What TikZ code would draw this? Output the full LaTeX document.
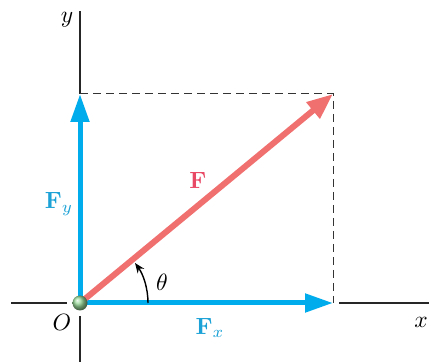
\documentclass[tikz,border=0pt]{standalone}
\usetikzlibrary{arrows.meta}
\definecolor{vecblue}{RGB}{0,172,236}
\definecolor{labblue}{RGB}{28,162,214}
\definecolor{vecred}{RGB}{240,112,112}
\definecolor{labred}{RGB}{232,72,100}
\definecolor{ballgreen}{RGB}{150,215,150}
\tikzset{
  lab/.style={scale=2.35, inner sep=0pt},
  axis/.style={line width=1.1pt, black!85},
  guide/.style={line width=1pt, black!80, dash pattern=on 8pt off 5pt},
  comp/.style={line width=5pt, vecblue, -{Triangle[length=28pt,width=18pt]}},
  resv/.style={line width=6pt, vecred, -{Triangle[length=26pt,width=20pt]}},
}
\begin{document}
\begin{tikzpicture}[x=1pt,y=1pt]
\useasboundingbox (0,0) rectangle (429,362);
\clip (0,0) rectangle (429,362);
\coordinate (O) at (80,59);
\coordinate (P) at (333,268);
\coordinate (X) at (333,59);
\coordinate (Y) at (80,268);
\coordinate (xl1) at (11,59);
\coordinate (xl2) at (67,59);
\coordinate (xr1) at (339,59);
\coordinate (xr2) at (429,59);
\coordinate (yt) at (80,351);
\coordinate (yb1) at (80,46);
\coordinate (yb2) at (80,0);
% axes
\draw[axis] (xl1) -- (xl2);
\draw[axis] (xr1) -- (xr2);
\draw[axis] (Y) -- (yt);
\draw[axis] (yb1) -- (yb2);
% dashed guides
\draw[guide] (Y) -- (P) -- (X);
% vectors
\draw[comp] (O) -- (X);
\draw[comp] (O) -- (Y);
\draw[resv] (O) -- (P);
% angle
\draw[line width=1.4pt, -{Stealth[length=10pt,width=8pt]}] ([shift={(0:68)}]O) arc[start angle=0, end angle=36, radius=68];
% particle
\shade[ball color=ballgreen] (O) circle[radius=7.5];
% labels
\node[lab] (ylab) at (67,342) {$y$};
\node[lab] (xlab) at (421,40) {$x$};
\node[lab] (Olab) at (62,40) {$O$};
\node[lab] (th) at (162,80) {$\theta$};
\node[lab, text=labred] (Flab) at (198,182) {$\mathbf{F}$};
\node[lab, text=labblue] (Fylab) at (59,158) {$\mathbf{F}_y$};
\node[lab, text=labblue] (Fxlab) at (210,34) {$\mathbf{F}_x$};
\end{tikzpicture}
\end{document}
